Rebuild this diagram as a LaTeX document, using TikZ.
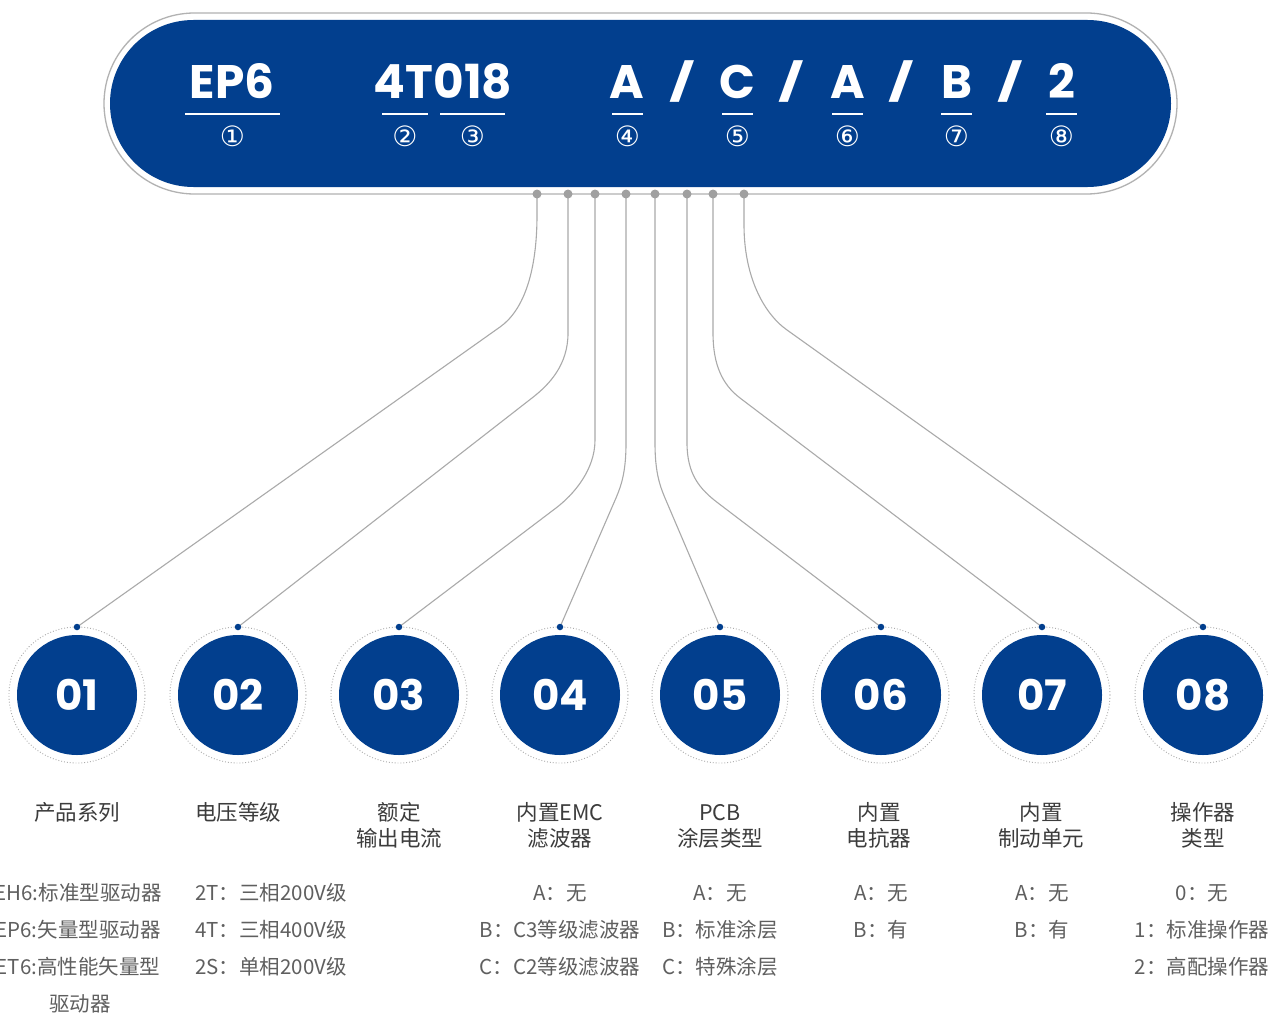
\documentclass[tikz,border=0pt]{standalone}
\usepackage{fontspec}
\setmainfont{Noto Sans CJK SC}
\newfontfamily\pop{Poppins}
\newfontfamily\dejavu{DejaVu Sans}
\definecolor{brandblue}{RGB}{2,63,142}
\definecolor{outlinegray}{RGB}{178,178,178}
\definecolor{dotgray}{RGB}{160,160,160}
\definecolor{conngray}{RGB}{170,170,170}
\definecolor{titlegray}{RGB}{60,60,60}
\definecolor{optgray}{RGB}{95,95,95}
\newcommand{\slsh}{\raisebox{3pt}{\scalebox{1.2}[0.78]{/}}}
\tikzset{
  bigt/.style={font=\pop\bfseries\fontsize{47}{47}\selectfont, text=white, anchor=base, inner sep=0pt},
  uline/.style={draw=white, line width=2.6pt},
  circnum/.style={font=\dejavu\fontsize{28}{28}\selectfont, text=white, inner sep=0pt},
  dotg/.style={circle, fill=dotgray, minimum size=9pt, inner sep=0pt},
  bluedot/.style={circle, fill=brandblue, minimum size=6.5pt, inner sep=0pt},
  numcirc/.style={circle, fill=brandblue, minimum size=120pt, inner sep=0pt, text=white, font=\pop\bfseries\fontsize{42}{42}\selectfont},
  ring/.style={circle, draw=conngray, dotted, line width=0.9pt, minimum size=136pt, inner sep=0pt},
  conn/.style={draw=conngray, line width=1.1pt},
  title/.style={font=\fontsize{21.5}{21.5}\selectfont, text=titlegray, anchor=base, inner sep=0pt},
  opt/.style={font=\fontsize{20.5}{20.5}\selectfont, text=optgray, anchor=base, inner sep=0pt}
}
\begin{document}
\begin{tikzpicture}[x=1pt,y=-1pt]
\useasboundingbox (0,0) rectangle (1268,1014);
\fill[white] (0,0) rectangle (1268,1014);
% banner
\draw[outlinegray, line width=1.3pt, rounded corners=90.5pt] (104,13) rectangle (1177,194);
\fill[brandblue, rounded corners=83.5pt] (110,20) rectangle (1171,187);
\node[bigt] (t1) at (232,99) {EP6};
\node[bigt] (t2) at (443,99) {4T018};
\node[bigt] (t4) at (627,99) {A};
\node[bigt] (s1) at (682,99) {\slsh};
\node[bigt] (t5) at (737.5,99) {C};
\node[bigt] (s2) at (791.5,99) {\slsh};
\node[bigt] (t6) at (847.5,99) {A};
\node[bigt] (s3) at (901,99) {\slsh};
\node[bigt] (t7) at (956.5,99) {B};
\node[bigt] (s4) at (1010,99) {\slsh};
\node[bigt] (t8) at (1062,99) {2};
\draw[uline] (185,114) -- (280,114);
\draw[uline] (382,114) -- (428,114);
\draw[uline] (440,114) -- (505,114);
\draw[uline] (612,114) -- (643,114);
\draw[uline] (722,114) -- (753,114);
\draw[uline] (832,114) -- (863,114);
\draw[uline] (941,114) -- (972,114);
\draw[uline] (1046,114) -- (1077,114);
\node[circnum] (m1) at (232.5,136) {①};
\node[circnum] (m2) at (405,136) {②};
\node[circnum] (m3) at (472.5,136) {③};
\node[circnum] (m4) at (627.5,136) {④};
\node[circnum] (m5) at (737.5,136) {⑤};
\node[circnum] (m6) at (847.5,136) {⑥};
\node[circnum] (m7) at (956.5,136) {⑦};
\node[circnum] (m8) at (1061.5,136) {⑧};
% circles
\foreach \i/\x in {1/77,2/238,3/399,4/560,5/720,6/881,7/1042,8/1203}{
  \node[ring] (r\i) at (\x,695) {};
  \node[numcirc] (n\i) at (\x,695) {0\i};
}
% connectors
\coordinate (d1) at (537,194); \coordinate (d2) at (568,194);
\coordinate (d3) at (595,194); \coordinate (d4) at (626,194);
\coordinate (d5) at (655,194); \coordinate (d6) at (687,194);
\coordinate (d7) at (713,194); \coordinate (d8) at (744,194);
\draw[conn] (d1) -- (537,215) .. controls (537,270) and (524.5,309.7) .. (500,327) -- (77,627);
\draw[conn] (d2) -- (568,333) .. controls (568,365) and (549.4,384.5) .. (532,398) -- (238,627);
\draw[conn] (d3) -- (595,440) .. controls (595,470) and (573.5,494.7) .. (556,508) -- (399,627);
\draw[conn] (d4) -- (626,443) .. controls (626,470) and (622,484) .. (616,498) -- (560,627);
\draw[conn] (d5) -- (655,443) .. controls (655,470) and (659,484) .. (665,498) -- (720,627);
\draw[conn] (d6) -- (687,443) .. controls (687,475) and (700.5,489.7) .. (718,503) -- (881,627);
\draw[conn] (d7) -- (713,333) .. controls (713,365) and (722.5,384.7) .. (740,398) -- (1042,627);
\draw[conn] (d8) -- (744,225) .. controls (744,275) and (762.6,312.6) .. (787,330) -- (1203,627);
\foreach \i in {1,...,8}{ \node[dotg] (g\i) at (d\i) {}; }
\foreach \i/\x in {1/77,2/238,3/399,4/560,5/720,6/881,7/1042,8/1203}{
  \node[bluedot] (b\i) at (\x,627) {};
}
% titles
\node[title] (h1) at (77,820) {产品系列};
\node[title] (h2) at (238,820) {电压等级};
\node[title] (h3a) at (399,820) {额定};
\node[title] (h3b) at (399,846.5) {输出电流};
\node[title] (h4a) at (560,820) {内置EMC};
\node[title] (h4b) at (560,846.5) {滤波器};
\node[title] (h5a) at (720,820) {PCB};
\node[title] (h5b) at (720,846.5) {涂层类型};
\node[title] (h6a) at (879,820) {内置};
\node[title] (h6b) at (879,846.5) {电抗器};
\node[title] (h7a) at (1041,820) {内置};
\node[title] (h7b) at (1041,846.5) {制动单元};
\node[title] (h8a) at (1203,820) {操作器};
\node[title] (h8b) at (1203,846.5) {类型};
% options
\node[opt] (o11) at (78,900.7) {EH6:标准型驱动器};
\node[opt] (o12) at (78,937.5) {EP6:矢量型驱动器};
\node[opt] (o13) at (78,974.3) {ET6:高性能矢量型};
\node[opt] (o14) at (80,1011.1) {驱动器};
\node[opt] (o21) at (271,900.7) {2T：三相200V级};
\node[opt] (o22) at (271,937.5) {4T：三相400V级};
\node[opt] (o23) at (271,974.3) {2S：单相200V级};
\node[opt] (o41) at (560,900.7) {A：无};
\node[opt] (o42) at (560,937.5) {B：C3等级滤波器};
\node[opt] (o43) at (560,974.3) {C：C2等级滤波器};
\node[opt] (o51) at (720,900.7) {A：无};
\node[opt] (o52) at (720,937.5) {B：标准涂层};
\node[opt] (o53) at (720,974.3) {C：特殊涂层};
\node[opt] (o61) at (881,900.7) {A：无};
\node[opt] (o62) at (881,937.5) {B：有};
\node[opt] (o71) at (1042,900.7) {A：无};
\node[opt] (o72) at (1042,937.5) {B：有};
\node[opt] (o81) at (1202,900.7) {0：无};
\node[opt] (o82) at (1202,937.5) {1：标准操作器};
\node[opt] (o83) at (1202,974.3) {2：高配操作器};
\end{tikzpicture}
\end{document}
